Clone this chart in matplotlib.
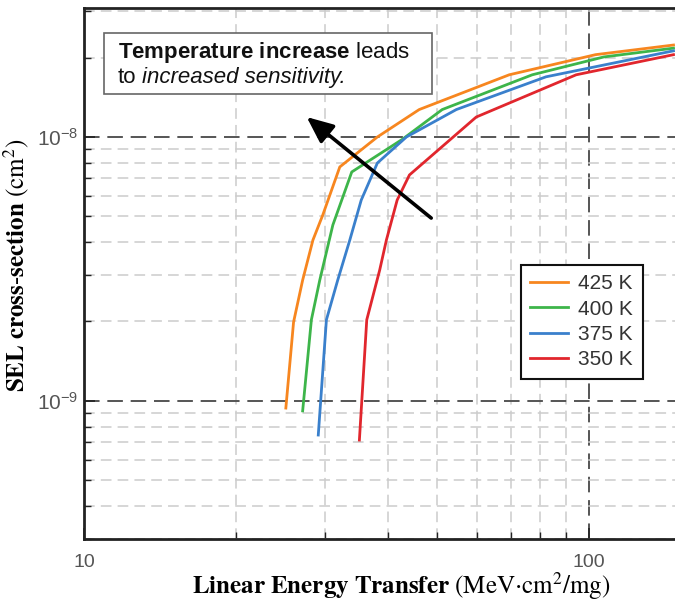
import matplotlib
matplotlib.use("Agg")
import matplotlib.pyplot as plt
from matplotlib.ticker import FixedLocator, FixedFormatter, NullFormatter, LogLocator
from matplotlib.patches import Rectangle

plt.rcParams['font.family'] = ['Liberation Sans', 'DejaVu Sans']
plt.rcParams['mathtext.fontset'] = 'custom'
plt.rcParams['mathtext.rm'] = 'Liberation Sans'
plt.rcParams['mathtext.it'] = 'Liberation Sans:italic'
plt.rcParams['mathtext.bf'] = 'Liberation Sans:bold'

# SEL cross-section vs LET for four junction temperatures
let_425 = [25.1, 26.0, 27.1, 28.4, 29.7, 32.1, 38.1, 46.1, 69.5, 103, 147]
sel_425 = [9.4e-10, 1.99e-9, 2.87e-9, 4.07e-9, 5.06e-9, 7.70e-9, 1.00e-8, 1.27e-8, 1.72e-8, 2.05e-8, 2.23e-8]

let_400 = [27.1, 28.2, 29.3, 31.1, 33.9, 42.7, 51.2, 77.2, 107, 147]
sel_400 = [9.17e-10, 2.03e-9, 2.87e-9, 4.64e-9, 7.37e-9, 9.8e-9, 1.27e-8, 1.72e-8, 2.01e-8, 2.17e-8]

let_375 = [29.1, 30.2, 31.8, 33.6, 35.4, 38.1, 43.5, 54.6, 82.2, 147]
sel_375 = [7.43e-10, 2.03e-9, 2.87e-9, 4.07e-9, 5.77e-9, 7.97e-9, 1.00e-8, 1.27e-8, 1.69e-8, 2.12e-8]

let_350 = [35.1, 36.3, 38.5, 39.7, 41.7, 44.1, 59.8, 94.3, 147]
sel_350 = [7.11e-10, 2.03e-9, 3.13e-9, 4.07e-9, 5.77e-9, 7.18e-9, 1.19e-8, 1.72e-8, 2.05e-8]

series_labels = ["425 K", "400 K", "375 K", "350 K"]
series_colors = ["#f7861f", "#3db54a", "#3a80cc", "#e1262d"]

xticks = [10, 100]
xtick_labels = ["10", "100"]
yticks = [1e-9, 1e-8]
ytick_labels = [r"$\mathregular{10^{-9}}$", r"$\mathregular{10^{-8}}$"]

# arrow annotation (data units): tail and head
arrow_tail = (48.7, 4.93e-9)
arrow_head = (27.6, 1.19e-8)

fig = plt.figure(figsize=(6.75, 6.03), dpi=100)
ax = fig.add_axes([84 / 675, 64 / 603, 591 / 675, 531 / 603])

for lx, ly, lab, col in zip([let_425, let_400, let_375, let_350],
                            [sel_425, sel_400, sel_375, sel_350],
                            series_labels, series_colors):
    ax.plot(lx, ly, color=col, lw=2.0, label=lab, solid_joinstyle='round', zorder=3)

ax.set_xscale('log')
ax.set_yscale('log')
ax.set_xlim(10, 148)
ax.set_ylim(3.0e-10, 3.08e-8)

ax.xaxis.set_major_locator(FixedLocator(xticks))
ax.xaxis.set_major_formatter(FixedFormatter(xtick_labels))
ax.xaxis.set_minor_locator(LogLocator(base=10, subs=range(2, 10), numticks=20))
ax.xaxis.set_minor_formatter(NullFormatter())
ax.yaxis.set_major_locator(FixedLocator(yticks))
ax.yaxis.set_major_formatter(FixedFormatter(ytick_labels))
ax.yaxis.set_minor_locator(LogLocator(base=10, subs=range(2, 10), numticks=20))
ax.yaxis.set_minor_formatter(NullFormatter())

ax.grid(which='major', color='#555555', ls=(0, (8, 4)), lw=1.4)
ax.grid(which='minor', color='#cccccc', ls=(0, (7, 4)), lw=1.1)
ax.set_axisbelow(True)

ax.tick_params(which='both', direction='in', colors='#222222', labelcolor='#555555')
ax.tick_params(which='major', length=8, width=1.2)
ax.tick_params(which='minor', length=5, width=1.0)
ax.tick_params(axis='x', pad=10.5, labelsize=14)
ax.tick_params(axis='y', pad=4, labelsize=15)

ax.spines['right'].set_visible(False)
for s in ['left', 'bottom', 'top']:
    ax.spines[s].set_linewidth(2.0)
    ax.spines[s].set_color('#222222')

ax.set_xlabel(r"$\mathbf{Linear\ Energy\ Transfer}\ \mathrm{(MeV{\cdot}cm^2/mg)}$",
              fontsize=18, math_fontfamily='stix', va='baseline')
ax.xaxis.set_label_coords((401 - 84) / 591, (539 - 594) / 531)
ax.set_ylabel(r"$\mathbf{SEL\ cross\text{-}section}\ \mathrm{(cm^2)}$",
              fontsize=18, math_fontfamily='stix', va='center')
ax.yaxis.set_label_coords((16 - 84) / 591, (539 - 265) / 531)

leg = ax.legend(loc='upper left', bbox_to_anchor=((521 - 84) / 591, (539 - 265) / 531),
                borderaxespad=0, frameon=True, fancybox=False, edgecolor='#111111',
                fontsize=15, handlelength=1.8, handletextpad=0.5, labelspacing=0.3,
                borderpad=0.45, framealpha=1)
leg.get_frame().set_linewidth(1.5)
for t in leg.get_texts():
    t.set_color('#333333')

ax.annotate('', xy=arrow_head, xytext=arrow_tail,
            arrowprops=dict(arrowstyle='-|>,head_length=0.8,head_width=0.35',
                            color='black', lw=2.6, shrinkA=0, shrinkB=0,
                            mutation_scale=20), zorder=6)

box = Rectangle((104 / 675, (603 - 94) / 603), 328 / 675, 61 / 603,
                transform=fig.transFigure, fc='white', ec='#666666', lw=1.2, zorder=5)
fig.add_artist(box)
fig.text(118 / 675, (603 - 58) / 603, r"$\mathbf{Temperature\ increase}$ leads",
         fontsize=16, va='baseline', ha='left', color='#111111', zorder=6)
fig.text(118 / 675, (603 - 83) / 603, "to",
         fontsize=16, va='baseline', ha='left', color='#111111', zorder=6)
fig.text(142 / 675, (603 - 83) / 603, "increased sensitivity.",
         fontsize=16, style='italic', va='baseline', ha='left', color='#111111', zorder=6)

fig.savefig("out.png", dpi=100)
